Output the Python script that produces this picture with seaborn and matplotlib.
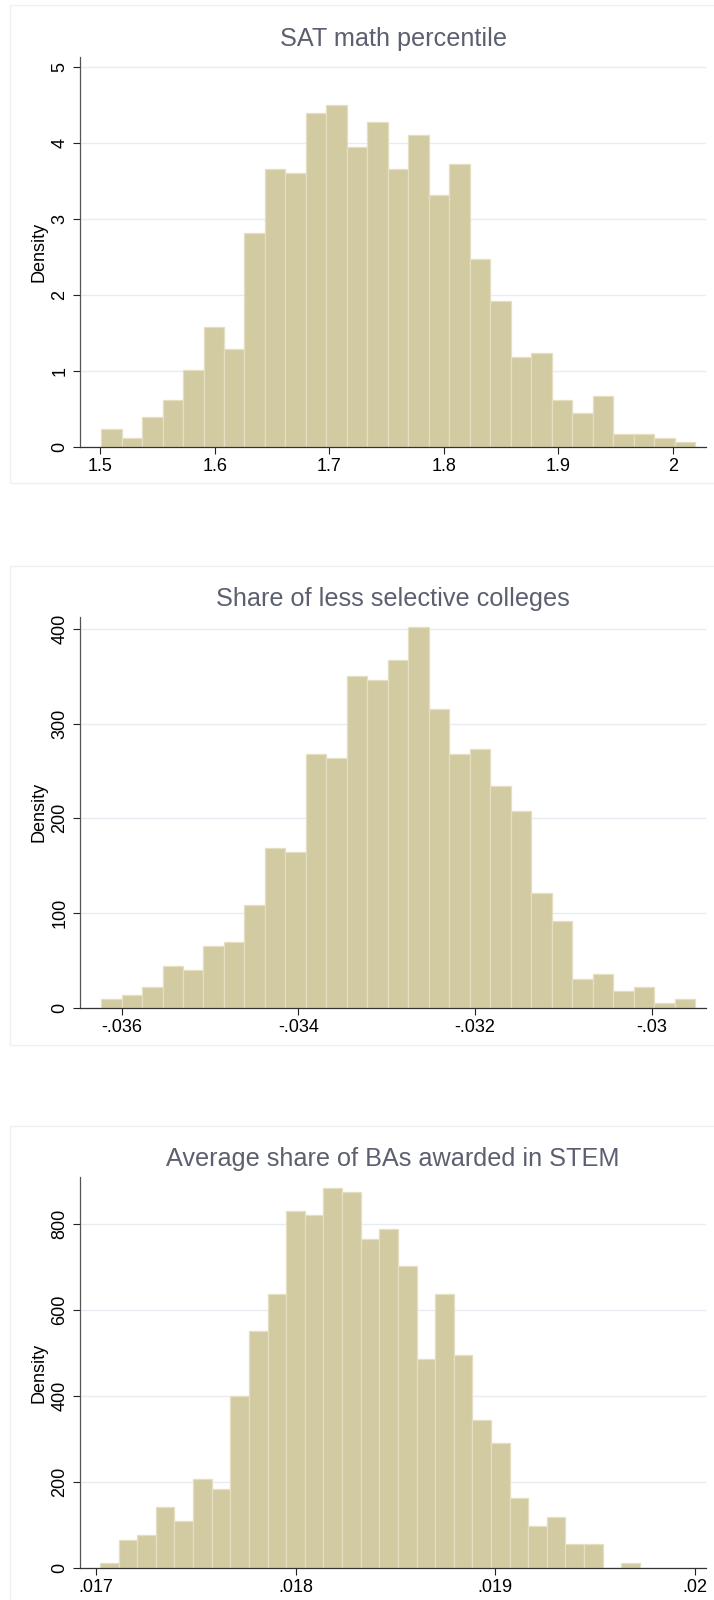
import numpy as np
import pandas as pd
import matplotlib
matplotlib.use("Agg")
import matplotlib.pyplot as plt
from matplotlib.patches import Rectangle
import seaborn as sns

# ---------------------------------------------------------------------------
# Histogram data: bin heights (density) and the range covered by the bins
# ---------------------------------------------------------------------------
sat_title = "SAT math percentile"
sat_density = [0.228, 0.114, 0.395, 0.620, 1.015, 1.573, 1.290, 2.807, 3.651,
               3.598, 4.385, 4.495, 3.937, 4.266, 3.651, 4.104, 3.313, 3.713,
               2.474, 1.911, 1.178, 1.235, 0.620, 0.448, 0.672, 0.167, 0.167,
               0.110, 0.057]
sat_bin_range = (1.5009, 2.0193)
sat_xticks = [1.5, 1.6, 1.7, 1.8, 1.9, 2.0]
sat_xlabels = ["1.5", "1.6", "1.7", "1.8", "1.9", "2"]
sat_yticks = [0, 1, 2, 3, 4, 5]

less_title = "Share of less selective colleges"
less_density = [9.2, 13.7, 22.2, 44.1, 39.5, 65.6, 69.8, 108.5, 168.8, 164.6,
                268.2, 264.0, 350.3, 345.7, 367.6, 402.1, 315.4, 268.2, 272.8,
                233.7, 207.9, 121.6, 91.3, 30.7, 35.2, 17.6, 22.2, 4.9, 9.2]
less_bin_range = (-0.036234, -0.029506)
less_xticks = [-0.036, -0.034, -0.032, -0.030]
less_xlabels = ["-.036", "-.034", "-.032", "-.03"]
less_yticks = [0, 100, 200, 300, 400]

stem_title = "Average share of BAs awarded in STEM"
stem_density = [10.9, 64.5, 76.1, 140.6, 108.0, 205.8, 183.3, 400.0, 550.7,
                636.9, 831.0, 820.2, 884.7, 873.8, 765.8, 787.6, 701.4, 485.4,
                636.9, 496.3, 344.9, 291.3, 162.3, 97.1, 118.8, 54.4, 54.4,
                0.0, 10.9]
stem_bin_range = (0.01702, 0.019726)
stem_xticks = [0.017, 0.018, 0.019, 0.020]
stem_xlabels = [".017", ".018", ".019", ".02"]
stem_yticks = [0, 200, 400, 600, 800]

y_label = "Density"

# ---------------------------------------------------------------------------
# Styling
# ---------------------------------------------------------------------------
sns.set_style("white")
plt.rcParams["font.family"] = ["Liberation Sans", "DejaVu Sans"]

BAR_COLOR = "#D2CAA1"
BAR_EDGE = "#E5DFC2"
GRID_COLOR = "#E6ECF2"
FRAME_COLOR = "#EEF1F4"
TITLE_COLOR = "#5B5F70"

W, H = 714, 1600
fig = plt.figure(figsize=(W / 100, H / 100), dpi=100)
fig.patch.set_facecolor("white")


def px_rect(left, top, right, bottom):
    """Figure-fraction rectangle from pixel edges (origin top-left)."""
    return [left / W, 1 - bottom / H, (right - left) / W, (bottom - top) / H]


panels = [
    dict(title=sat_title, dens=sat_density, rng=sat_bin_range,
         xt=sat_xticks, xl=sat_xlabels, yt=sat_yticks,
         xlim=(1.4825, 2.0288), ylim=5.13,
         box=(80, 56.7, 706, 446.7), frame=(9.5, 5.5, 740, 483)),
    dict(title=less_title, dens=less_density, rng=less_bin_range,
         xt=less_xticks, xl=less_xlabels, yt=less_yticks,
         xlim=(-0.036472, -0.029385), ylim=413,
         box=(80, 616.7, 706, 1007.7), frame=(9.5, 566, 740, 1045)),
    dict(title=stem_title, dens=stem_density, rng=stem_bin_range,
         xt=stem_xticks, xl=stem_xlabels, yt=stem_yticks,
         xlim=(0.01692, 0.020057), ylim=909,
         box=(80, 1177.3, 706, 1567.7), frame=(9.5, 1126, 740, 1640)),
]

for p in panels:
    # light outline around each graph region
    fl, ft, fr, fb = p["frame"]
    fig.patches.append(Rectangle((fl / W, 1 - fb / H), (fr - fl) / W, (fb - ft) / H,
                                 transform=fig.transFigure, fill=False,
                                 edgecolor=FRAME_COLOR, linewidth=1.0, zorder=0))

    ax = fig.add_axes(px_rect(*p["box"]))
    dens = np.asarray(p["dens"], dtype=float)
    n_bins = len(dens)
    lo, hi = p["rng"]
    width = (hi - lo) / n_bins
    centers = lo + width * (np.arange(n_bins) + 0.5)
    df = pd.DataFrame({"value": centers, "density": dens})

    sns.histplot(data=df, x="value", weights="density", bins=n_bins,
                 binrange=(lo, hi), ax=ax,
                 color=BAR_COLOR, edgecolor=BAR_EDGE, linewidth=0.9,
                 alpha=1.0, stat="count")

    ax.set_xlim(*p["xlim"])
    ax.set_ylim(0, p["ylim"])
    ax.set_xticks(p["xt"])
    ax.set_xticklabels(p["xl"])
    ax.set_yticks(p["yt"])
    ax.set_yticklabels([str(v) for v in p["yt"]], rotation=90, va="center")

    ax.set_axisbelow(True)
    ax.yaxis.grid(True, color=GRID_COLOR, linewidth=1.0)
    ax.xaxis.grid(False)

    for side in ("top", "right"):
        ax.spines[side].set_visible(False)
    ax.spines["left"].set_color("#555555")
    ax.spines["bottom"].set_color("#333333")
    ax.spines["left"].set_linewidth(0.9)
    ax.spines["bottom"].set_linewidth(0.9)

    ax.tick_params(axis="both", which="major", length=5, width=0.8,
                   color="#222222", labelsize=13, labelcolor="black",
                   left=True, bottom=True)
    ax.tick_params(axis="x", pad=3.0)
    ax.tick_params(axis="y", pad=3.5)

    ax.set_xlabel("")
    ax.set_ylabel(y_label, fontsize=13, color="black")
    ax.yaxis.set_label_coords(-0.052, 0.5)

    ax.set_title(p["title"], fontsize=18.2, color=TITLE_COLOR, pad=8)

fig.savefig("out.png", dpi=100, facecolor="white")
